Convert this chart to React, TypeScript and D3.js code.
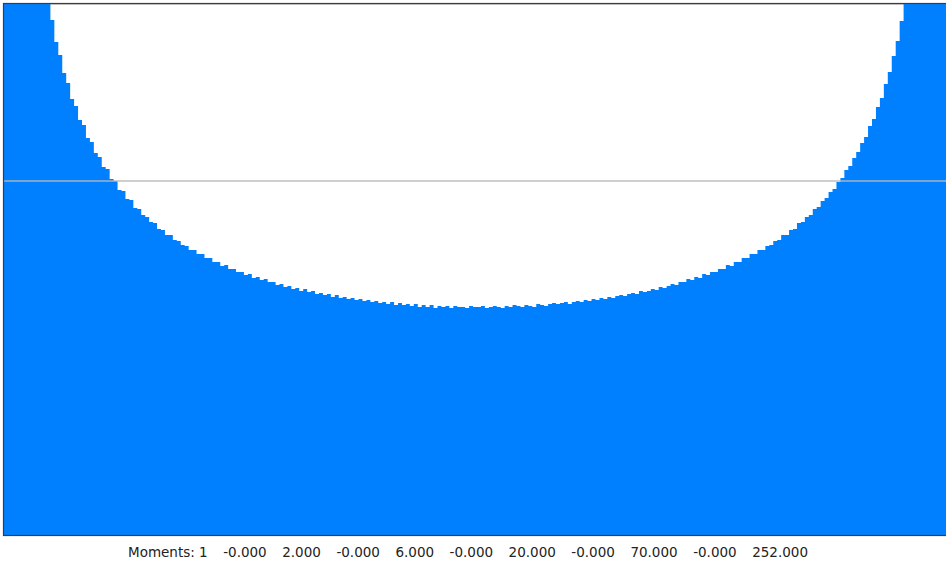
import React from "react";
import * as d3 from "d3";

// histogram of the sample, left half then right half (bins over [-2, 2])
const leftCounts = [
  2495, 1449, 1120, 953, 842, 760, 704, 653, 619, 583,
  559, 532, 515, 493, 480, 462, 452, 436, 429, 415,
  410, 397, 393, 382, 378, 368, 366, 356, 354, 345,
  344, 336, 335, 327, 326, 320, 318, 313, 312, 306,
  305, 300, 300, 295, 294, 290, 289, 285, 285, 281,
  281, 277, 277, 273, 273, 269, 270, 266, 266, 263,
  263, 260, 261, 257, 258, 255, 256, 253, 253, 250,
  251, 248, 249, 246, 247, 244, 246, 243, 244, 241,
  242, 240, 241, 238, 240, 237, 238, 236, 237, 235,
  236, 234, 235, 233, 234, 232, 233, 231, 233, 230,
  232, 230, 231, 229, 231, 228, 230, 228, 230, 227,
  229, 228, 229, 227, 229, 228, 228, 227, 229, 228,
];
const rightCounts = [
  228, 229, 227, 228, 229, 228, 227, 229, 228, 230,
  229, 228, 230, 229, 228, 231, 230, 229, 231, 232,
  231, 232, 233, 231, 233, 234, 233, 235, 234, 236,
  235, 237, 236, 238, 237, 239, 240, 239, 241, 242,
  241, 244, 243, 244, 246, 245, 248, 247, 249, 251,
  250, 253, 253, 256, 255, 258, 257, 261, 260, 263,
  263, 266, 266, 270, 269, 273, 273, 277, 277, 281,
  281, 285, 285, 289, 290, 294, 295, 300, 300, 305,
  306, 312, 313, 318, 320, 326, 328, 334, 337, 343,
  346, 353, 357, 365, 369, 377, 383, 392, 398, 409,
  416, 428, 437, 451, 463, 479, 494, 514, 533, 558,
  584, 618, 654, 703, 761, 841, 950, 1125, 1445, 2503,
];
const counts = leftCounts.concat(rightCounts);

const xDomain = [-2, 2];
const yMax = 532;
const refLine = 354;
const topLine = 531;

const momentLabels = [
  "Moments: 1", "-0.000", "2.000", "-0.000", "6.000", "-0.000",
  "20.000", "-0.000", "70.000", "-0.000", "252.000",
];

export default function App() {
  const width = 946;
  const height = 561;
  const left = 3;
  const top = 3;
  const bottom = 535;
  const plotRight = 951;

  const x = d3.scaleLinear().domain(xDomain).range([left, plotRight]);
  const y = d3.scaleLinear().domain([0, yMax]).range([bottom, top]);
  const binW = (xDomain[1] - xDomain[0]) / counts.length;

  // bin edges: each bin starts at its left edge, last one closed at xDomain[1]
  const pts: [number, number][] = counts.map((c, i) => [xDomain[0] + i * binW, c]);
  pts.push([xDomain[1], counts[counts.length - 1]]);

  const area = d3
    .area<[number, number]>()
    .x((d) => x(d[0]))
    .y0(bottom)
    .y1((d) => y(d[1]))
    .curve(d3.curveStepAfter);

  return (
    <svg
      width={width}
      height={height}
      style={{ position: "absolute", left: 0, top: 0, display: "block", background: "#fff" }}
    >
      <defs>
        <clipPath id="plot">
          <rect x={left} y={top} width={plotRight - left} height={bottom - top} />
        </clipPath>
      </defs>
      <line x1={left} x2={width} y1={y(topLine)} y2={y(topLine)} stroke="#bdbdbd" strokeWidth={1.5} />
      <g clipPath="url(#plot)">
        <path d={area(pts) || ""} fill="#0080ff" />
      </g>
      <line
        x1={left}
        x2={width}
        y1={y(refLine)}
        y2={y(refLine)}
        stroke="#b8b8b8"
        strokeOpacity={0.9}
        strokeWidth={1.5}
      />
      <rect
        x={left + 0.5}
        y={top + 0.5}
        width={plotRight - left + 2}
        height={bottom - top}
        fill="none"
        stroke="#3c3c3c"
        strokeWidth={1.2}
      />
      <text
        x={128}
        y={557}
        fontFamily="DejaVu Sans, sans-serif"
        fontSize={13.5}
        fill="#222"
      >
        {momentLabels.map((t, i) => (
          <tspan key={i} dx={i === 0 ? 0 : 15.5}>
            {t}
          </tspan>
        ))}
      </text>
    </svg>
  );
}
